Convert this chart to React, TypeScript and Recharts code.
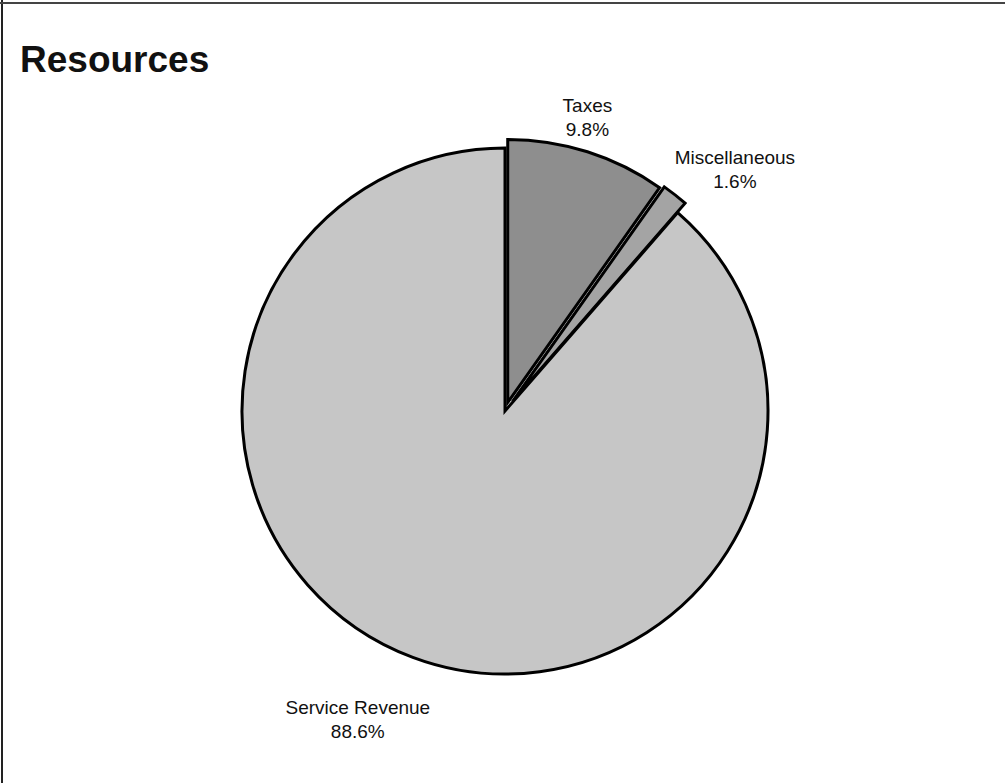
import React from 'react';
import { PieChart, Pie, Cell } from 'recharts';

// ---- data ----
const categories = ['Taxes', 'Miscellaneous', 'Service Revenue'];
const shares = [9.8, 1.6, 88.6];
const title = 'Resources';

// ---- style / layout (not data) ----
const W = 1005;
const H = 783;
const CX = 500;
const CY = 406;
const RADIUS = 263;
const FILLS = ['#8e8e8e', '#a4a4a4', '#c6c6c6'];
const EXPLODE = [9, 12, 0];
const LABEL_SHIFT: [number, number][] = [
  [0, -40],
  [60, -31],
  [-55, 57],
];
const FONT = '"Liberation Sans", Arial, sans-serif';
const RAD = Math.PI / 180;

const data = categories.map((name, i) => ({ name, value: shares[i] }));
const total = shares.reduce((a, b) => a + b, 0);
const midAngles: number[] = [];
{
  let acc = 0;
  shares.forEach((v) => {
    midAngles.push(((acc + v / 2) / total) * 360);
    acc += v;
  });
}

const makeLabel = (slice: number) => (props: any) => {
  if (props.index !== slice) return null;
  const { cx, cy, midAngle, outerRadius, name, value } = props;
  const ax = cx + outerRadius * Math.cos(-midAngle * RAD);
  const ay = cy + outerRadius * Math.sin(-midAngle * RAD);
  const x = ax + LABEL_SHIFT[slice][0];
  const y = ay + LABEL_SHIFT[slice][1];
  return (
    <text
      x={x}
      y={y}
      textAnchor="middle"
      fontFamily={FONT}
      fontSize={19}
      fill="#111"
    >
      <tspan x={x} y={y}>{name}</tspan>
      <tspan x={x} y={y + 24}>{`${Number(value).toFixed(1)}%`}</tspan>
    </text>
  );
};

export default function App() {
  return (
    <div
      style={{
        position: 'absolute',
        left: 0,
        top: 0,
        width: W,
        height: H,
        background: '#fff',
        overflow: 'hidden',
      }}
    >
      <div
        style={{
          position: 'absolute',
          left: 1,
          top: 0,
          width: 0,
          height: H,
          borderLeft: '2px solid #222',
        }}
      />
      <div
        style={{
          position: 'absolute',
          left: 0,
          top: 2,
          width: W,
          height: 0,
          borderTop: '2px solid #444',
        }}
      />
      <div
        style={{
          position: 'absolute',
          left: 20,
          top: 38,
          fontFamily: FONT,
          fontWeight: 'bold',
          fontSize: 37,
          lineHeight: '44px',
          color: '#111',
        }}
      >
        {title}
      </div>
      <PieChart width={W} height={H} style={{ position: 'absolute', left: 0, top: 0 }}>
        {categories.map((_, i) => {
          const d = EXPLODE[i];
          const m = midAngles[i] * RAD;
          const pcx = CX + d * Math.sin(m);
          const pcy = CY - d * Math.cos(m);
          return (
            <Pie
              key={i}
              data={data}
              dataKey="value"
              nameKey="name"
              cx={pcx}
              cy={pcy}
              innerRadius={0}
              outerRadius={RADIUS}
              startAngle={90}
              endAngle={-270}
              isAnimationActive={false}
              labelLine={false}
              label={makeLabel(i)}
            >
              {data.map((_, j) => (
                <Cell
                  key={j}
                  fill={j === i ? FILLS[i] : 'none'}
                  stroke={j === i ? '#000' : 'none'}
                  strokeWidth={j === i ? 3 : 0}
                />
              ))}
            </Pie>
          );
        })}
      </PieChart>
    </div>
  );
}
